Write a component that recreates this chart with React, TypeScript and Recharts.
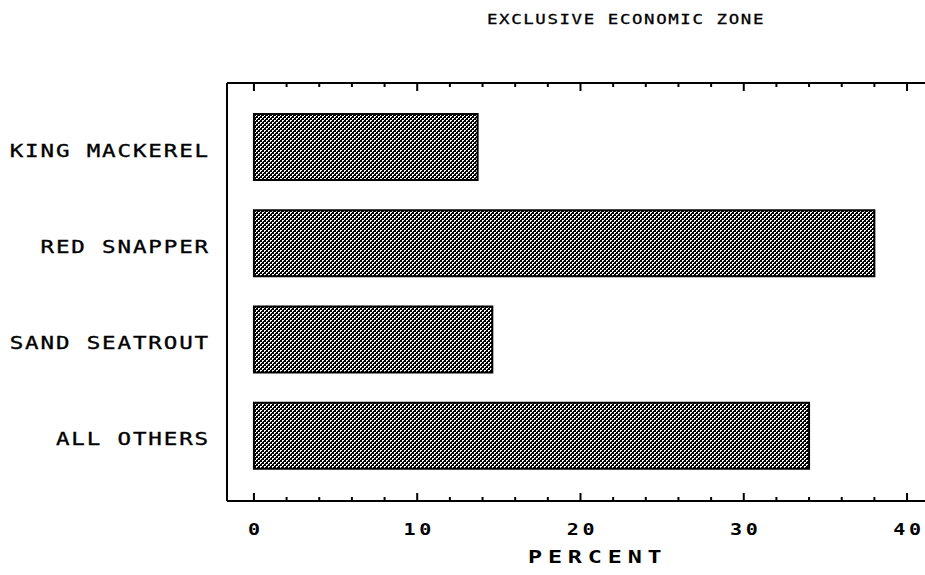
import { BarChart, Bar, XAxis, YAxis } from "recharts";

// values
const species = ["KING MACKEREL", "RED SNAPPER", "SAND SEATROUT", "ALL OTHERS"];
const percent = [13.7, 38, 14.6, 34];
const majorTicks = [0, 10, 20, 30, 40];
const allTicks = [0, 2, 4, 6, 8, 10, 12, 14, 16, 18, 20, 22, 24, 26, 28, 30, 32, 34, 36, 38, 40];

const data = species.map((name, i) => ({ name, value: percent[i] }));

const mono = "'DejaVu Sans Mono', 'Liberation Mono', monospace";

// dithered fill like the old plotter output
const hatchPixels = [
  [0, 0], [1, 0],
  [0, 1], [1, 1], [3, 1],
  [2, 2], [3, 2],
  [1, 3], [2, 3], [3, 3],
];

// plotter lettering is wider than DejaVu, so stretch it sideways
function WideText(props: any) {
  const { x, y, sx, anchor = "start", size, bold, spacing, weight = 0, children } = props;
  return (
    <text
      transform={`translate(${x},${y}) scale(${sx},1)`}
      textAnchor={anchor}
      fontFamily={mono}
      fontSize={size}
      fontWeight={bold ? "bold" : "normal"}
      letterSpacing={spacing}
      fill="#000"
      stroke={weight ? "#000" : "none"}
      strokeWidth={weight}
    >
      {children}
    </text>
  );
}

function BottomTick(props: any) {
  const { x, y, payload } = props;
  const major = majorTicks.includes(payload.value);
  return (
    <g>
      <line x1={x} x2={x} y1={y} y2={y - (major ? 8 : 4)} stroke="#000" strokeWidth={2} />
      {major && (
        <WideText x={x + 2} y={y + 34} sx={1.25} anchor="middle" size={16} bold spacing={2.9}>
          {payload.value}
        </WideText>
      )}
    </g>
  );
}

function TopTick(props: any) {
  const { x, y, payload } = props;
  const major = majorTicks.includes(payload.value);
  return <line x1={x} x2={x} y1={y} y2={y + (major ? 8 : 4)} stroke="#000" strokeWidth={2} />;
}

function SpeciesTick(props: any) {
  const { x, y, payload } = props;
  return (
    <WideText x={x - 17} y={y + 9.5} sx={1.25} anchor="end" size={18} spacing={1.5} weight={0.35}>
      {payload.value}
    </WideText>
  );
}

export default function App() {
  return (
    <div style={{ position: "absolute", left: 0, top: 0, width: 925, height: 575, background: "#fff" }}>
      <BarChart
        width={925}
        height={575}
        data={data}
        layout="vertical"
        margin={{ top: 82, right: 0, bottom: 0, left: 0 }}
      >
        <defs>
          <pattern id="hatch" width={4} height={4} patternUnits="userSpaceOnUse">
            <rect x={0} y={0} width={4} height={4} fill="#fff" />
            {hatchPixels.map(([px, py], i) => (
              <rect key={i} x={px} y={py} width={1} height={1} fill="#000" shapeRendering="crispEdges" />
            ))}
          </pattern>
        </defs>
        <XAxis
          type="number"
          domain={[-1.65, 41.1]}
          allowDataOverflow
          ticks={allTicks}
          interval={0}
          height={74}
          tickSize={0}
          tickMargin={0}
          tickLine={false}
          axisLine={{ stroke: "#000", strokeWidth: 2 }}
          tick={<BottomTick />}
        />
        <XAxis
          xAxisId="top"
          orientation="top"
          type="number"
          domain={[-1.65, 41.1]}
          allowDataOverflow
          ticks={allTicks}
          interval={0}
          height={1}
          tickSize={0}
          tickMargin={0}
          tickLine={false}
          axisLine={{ stroke: "#000", strokeWidth: 2 }}
          tick={<TopTick />}
        />
        <YAxis
          type="category"
          dataKey="name"
          width={227}
          padding={{ top: 16, bottom: 17 }}
          tickSize={0}
          tickMargin={0}
          tickLine={false}
          axisLine={{ stroke: "#000", strokeWidth: 2 }}
          tick={<SpeciesTick />}
        />
        <Bar
          dataKey="value"
          barSize={66}
          fill="url(#hatch)"
          stroke="#000"
          strokeWidth={2}
          isAnimationActive={false}
        />
      </BarChart>
      <svg
        width={925}
        height={575}
        style={{ position: "absolute", left: 0, top: 0, pointerEvents: "none" }}
      >
        <WideText x={487} y={23.5} sx={1.2} size={14.5} spacing={1.35} weight={0.3}>
          EXCLUSIVE ECONOMIC ZONE
        </WideText>
        <WideText x={528} y={563} sx={1.3} size={18} bold spacing={4.5}>
          PERCENT
        </WideText>
      </svg>
    </div>
  );
}
